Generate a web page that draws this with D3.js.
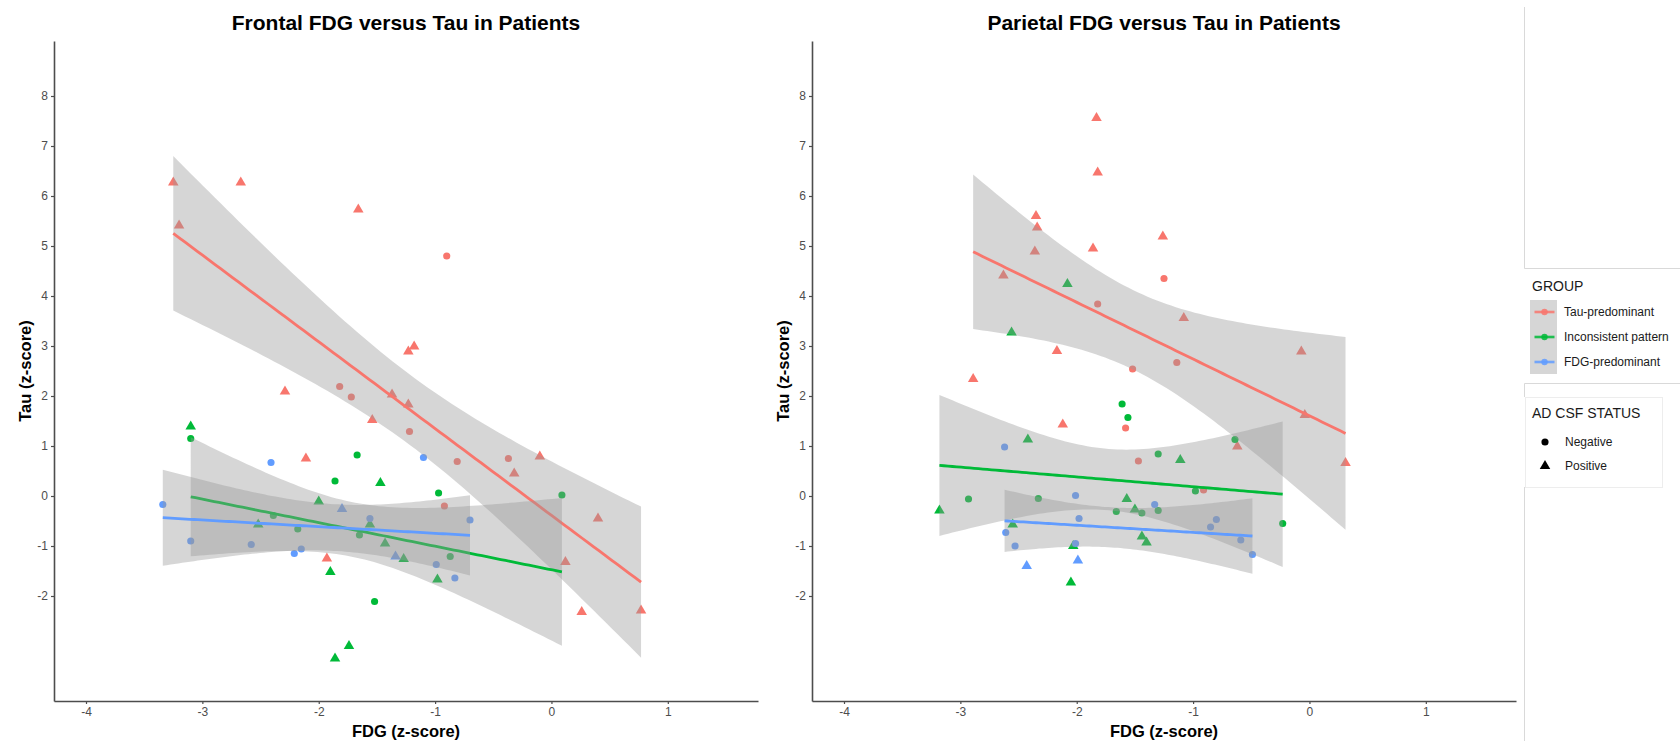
<!DOCTYPE html>
<html>
<head>
<meta charset="utf-8">
<script src="https://cdn.jsdelivr.net/npm/d3@7"></script>
<style>
  body { margin: 0; background: #fff; }
  svg { display: block; font-family: "Liberation Sans", Arial, sans-serif; }
</style>
</head>
<body>
<div id="chart"></div>
<script>
const groups = ["Tau-predominant", "Inconsistent pattern", "FDG-predominant"]
const groupColors = ["#F8766D", "#00BA38", "#619CFF"]
const csfStatus = ["Negative", "Positive"]
const xTicks = [-4, -3, -2, -1, 0, 1]
const yTicks = [-2, -1, 0, 1, 2, 3, 4, 5, 6, 7, 8]
const xLimits = [-4, 1.5]
const yLimits = [-3.5, 8.5]
const panelTitles = ["Frontal FDG versus Tau in Patients", "Parietal FDG versus Tau in Patients"]

// points: [FDG z-score, Tau z-score, AD CSF status]
const frontalTauPred = [
  [-3.25, 6.27, "P"], [-2.67, 6.27, "P"], [-1.66, 5.73, "P"], [-3.20, 5.41, "P"], [-0.90, 4.80, "N"],
  [-1.18, 2.99, "P"], [-1.23, 2.89, "P"], [-1.82, 2.19, "N"], [-1.72, 1.98, "N"], [-2.29, 2.09, "P"],
  [-1.37, 2.03, "P"], [-1.23, 1.83, "P"], [-1.54, 1.52, "P"], [-1.22, 1.29, "N"], [-2.11, 0.75, "P"],
  [-0.81, 0.69, "N"], [-0.37, 0.75, "N"], [-0.10, 0.79, "P"], [-0.32, 0.45, "P"], [-0.92, -0.20, "N"],
  [0.40, -0.45, "P"], [0.12, -1.32, "P"], [-1.93, -1.25, "P"], [0.26, -2.32, "P"], [0.77, -2.29, "P"]
]
const frontalInconsistent = [
  [-3.10, 1.39, "P"], [-3.10, 1.15, "N"], [-1.67, 0.82, "N"], [-1.86, 0.30, "N"], [-1.47, 0.26, "P"],
  [-0.97, 0.06, "N"], [0.09, 0.02, "N"], [-2.00, -0.11, "P"], [-2.39, -0.39, "N"], [-2.52, -0.57, "P"],
  [-2.18, -0.66, "N"], [-1.56, -0.57, "P"], [-1.65, -0.78, "N"], [-1.43, -0.95, "P"], [-1.27, -1.26, "P"],
  [-0.87, -1.21, "N"], [-1.90, -1.52, "P"], [-0.98, -1.67, "P"], [-1.52, -2.11, "N"], [-1.74, -3.00, "P"],
  [-1.86, -3.25, "P"]
]
const frontalFdgPred = [
  [-3.34, -0.17, "N"], [-3.10, -0.90, "N"], [-2.41, 0.67, "N"], [-2.58, -0.97, "N"], [-2.21, -1.15, "N"],
  [-2.15, -1.06, "N"], [-1.80, -0.26, "P"], [-1.56, -0.45, "N"], [-1.34, -1.21, "P"], [-1.10, 0.77, "N"],
  [-0.99, -1.37, "N"], [-0.83, -1.64, "N"], [-0.70, -0.48, "N"]
]
const parietalTauPred = [
  [-1.83, 7.56, "P"], [-1.82, 6.47, "P"], [-2.35, 5.60, "P"], [-2.34, 5.37, "P"], [-2.36, 4.89, "P"],
  [-1.86, 4.95, "P"], [-1.26, 5.19, "P"], [-1.25, 4.35, "N"], [-2.63, 4.41, "P"], [-1.82, 3.84, "N"],
  [-1.08, 3.56, "P"], [-2.17, 2.90, "P"], [-0.07, 2.89, "P"], [-1.14, 2.67, "N"], [-1.52, 2.54, "N"],
  [-2.89, 2.34, "P"], [-2.12, 1.43, "P"], [-1.58, 1.36, "N"], [-1.47, 0.70, "N"], [-0.62, 0.99, "P"],
  [-0.04, 1.62, "P"], [0.31, 0.66, "P"], [-0.91, 0.12, "N"]
]
const parietalInconsistent = [
  [-2.08, 4.24, "P"], [-2.56, 3.27, "P"], [-1.61, 1.84, "N"], [-1.56, 1.57, "N"], [-2.42, 1.13, "P"],
  [-0.64, 1.13, "N"], [-1.30, 0.84, "N"], [-1.11, 0.72, "P"], [-0.98, 0.10, "N"], [-2.93, -0.06, "N"],
  [-2.33, -0.05, "N"], [-3.18, -0.29, "P"], [-1.57, -0.06, "P"], [-1.50, -0.27, "P"], [-1.44, -0.34, "N"],
  [-1.66, -0.31, "N"], [-1.30, -0.29, "N"], [-0.23, -0.55, "N"], [-2.55, -0.57, "P"], [-1.44, -0.81, "P"],
  [-1.40, -0.93, "P"], [-2.03, -1.00, "P"], [-2.05, -1.73, "P"]
]
const parietalFdgPred = [
  [-2.62, 0.98, "N"], [-2.01, 0.01, "N"], [-1.98, -0.45, "N"], [-2.61, -0.73, "N"], [-2.53, -1.00, "N"],
  [-2.01, -0.95, "N"], [-2.43, -1.40, "P"], [-1.99, -1.29, "P"], [-1.33, -0.17, "N"], [-0.80, -0.47, "N"],
  [-0.85, -0.62, "N"], [-0.59, -0.88, "N"], [-0.49, -1.17, "N"]
]

const panels = [
  [frontalTauPred, frontalInconsistent, frontalFdgPred],
  [parietalTauPred, parietalInconsistent, parietalFdgPred]
]

const width = 1680, height = 741
const panelLeft = [54, 812], panelWidth = 704
const plotTop = 41, plotBottom = 701
const axisColor = "#4d4d4d"

// ggplot-like 5% expansion of the limits
const expand = l => { const r = l[1] - l[0]; return [l[0] - r * 0.05, l[1] + r * 0.05] }

const color = d3.scaleOrdinal().domain(groups).range(groupColors)
const y = d3.scaleLinear().domain(expand(yLimits)).range([plotBottom, plotTop])

const tri = d3.symbol(d3.symbolTriangle, 48)
const circ = d3.symbol(d3.symbolCircle, 40)

// 97.5% t quantile (Cornish-Fisher expansion)
function qt975(df) {
  const z = 1.959964
  return z + (z ** 3 + z) / (4 * df) + (5 * z ** 5 + 16 * z ** 3 + 3 * z) / (96 * df * df)
    + (3 * z ** 7 + 19 * z ** 5 + 17 * z ** 3 - 15 * z) / (384 * df ** 3)
}

// lm fit with 95% confidence band, like geom_smooth(method = "lm")
function lmFit(pts) {
  const n = pts.length
  const mx = d3.mean(pts, d => d[0]), my = d3.mean(pts, d => d[1])
  const sxx = d3.sum(pts, d => (d[0] - mx) ** 2)
  const b = d3.sum(pts, d => (d[0] - mx) * (d[1] - my)) / sxx
  const a = my - b * mx
  const s = Math.sqrt(d3.sum(pts, d => (d[1] - a - b * d[0]) ** 2) / (n - 2))
  const t = qt975(n - 2)
  const [x0, x1] = d3.extent(pts, d => d[0])
  return d3.range(80).map(i => {
    const x = x0 + (x1 - x0) * i / 79
    const fit = a + b * x
    const se = s * Math.sqrt(1 / n + (x - mx) ** 2 / sxx)
    return { x, fit, lo: fit - t * se, hi: fit + t * se }
  })
}

const svg = d3.select("#chart").append("svg")
    .attr("width", width)
    .attr("height", height)

panels.forEach((panel, p) => {
  const x = d3.scaleLinear().domain(expand(xLimits)).range([panelLeft[p], panelLeft[p] + panelWidth])
  const g = svg.append("g")
  const cx = panelLeft[p] + panelWidth / 2

  g.append("text")
      .attr("x", cx).attr("y", 30)
      .attr("text-anchor", "middle")
      .style("font-size", "21px").style("font-weight", "bold")
      .text(panelTitles[p])

  // points
  panel.forEach((pts, gi) => {
    g.append("g").selectAll("path")
      .data(pts)
      .join("path")
        .attr("transform", d => `translate(${x(d[0])},${y(d[1])})`)
        .attr("d", d => d[2] == "P" ? tri() : circ())
        .attr("fill", color(groups[gi]))
  })

  // smooths: ribbon then line per group
  panel.forEach((pts, gi) => {
    const fit = lmFit(pts)
    g.append("path")
        .datum(fit)
        .attr("fill", "#999999")
        .attr("fill-opacity", 0.4)
        .attr("d", d3.area().x(d => x(d.x)).y0(d => y(d.lo)).y1(d => y(d.hi)))
    g.append("path")
        .datum(fit)
        .attr("fill", "none")
        .attr("stroke", color(groups[gi]))
        .attr("stroke-width", 2.8)
        .attr("d", d3.line().x(d => x(d.x)).y(d => y(d.fit)))
  })

  const xAxis = g.append("g")
      .attr("transform", `translate(0,${plotBottom})`)
      .call(d3.axisBottom(x).tickValues(xTicks).tickFormat(d => String(d)).tickSize(3).tickSizeOuter(0).tickPadding(3))
  const yAxis = g.append("g")
      .attr("transform", `translate(${panelLeft[p]},0)`)
      .call(d3.axisLeft(y).tickValues(yTicks).tickFormat(d => String(d)).tickSize(3).tickSizeOuter(0).tickPadding(3))
  for (const ax of [xAxis, yAxis]) {
    ax.select(".domain").attr("stroke", axisColor).attr("stroke-width", 1.6)
    ax.selectAll(".tick line").attr("stroke", axisColor).attr("stroke-width", 1.2)
    ax.selectAll(".tick text").attr("fill", axisColor).style("font-size", "12px")
        .style("font-family", "Liberation Sans, Arial, sans-serif")
  }

  g.append("text")
      .attr("x", cx).attr("y", 737)
      .attr("text-anchor", "middle")
      .style("font-size", "16.5px").style("font-weight", "bold")
      .text("FDG (z-score)")
  g.append("text")
      .attr("transform", `translate(${panelLeft[p] - 23},${(plotTop + plotBottom) / 2}) rotate(-90)`)
      .attr("text-anchor", "middle")
      .style("font-size", "16.5px").style("font-weight", "bold")
      .text("Tau (z-score)")
})

// legend area
const lg = svg.append("g")
const border = "#d9d9d9"
lg.append("path")
    .attr("fill", "none").attr("stroke", border)
    .attr("d", "M1524.5,7V268.5H1680M1524.5,741V487M1524.5,397V383.5H1680")
lg.append("rect")
    .attr("x", 1525.5).attr("y", 397.5).attr("width", 137).attr("height", 90)
    .attr("fill", "#fff").attr("stroke", "#ededed")

lg.append("text").attr("x", 1532).attr("y", 291)
    .style("font-size", "14px").attr("fill", "#1a1a1a").text("GROUP")
lg.append("rect").attr("x", 1530).attr("y", 300).attr("width", 27).attr("height", 74)
    .attr("fill", "#d6d6d6")
const keys = lg.selectAll("g.key").data(groups).join("g")
    .attr("class", "key")
    .attr("transform", (d, i) => `translate(1544.5,${312 + i * 25})`)
keys.append("line").attr("x1", -10).attr("x2", 10)
    .attr("stroke", d => color(d)).attr("stroke-width", 2.6).attr("stroke-opacity", 0.85)
keys.append("circle").attr("r", 3.2).attr("fill", d => color(d)).attr("fill-opacity", 0.85)
keys.append("text").attr("x", 19.5).attr("dy", "0.35em")
    .style("font-size", "12px").attr("fill", "#1a1a1a").text(d => d)

lg.append("text").attr("x", 1532).attr("y", 418)
    .style("font-size", "14px").attr("fill", "#1a1a1a").text("AD CSF STATUS")
const shapes = lg.selectAll("g.shape").data(csfStatus).join("g")
    .attr("class", "shape")
    .attr("transform", (d, i) => `translate(1545,${442 + i * 24})`)
shapes.append("path").attr("d", (d, i) => i ? tri() : circ()).attr("fill", "#000")
shapes.append("text").attr("x", 20).attr("dy", "0.35em")
    .style("font-size", "12px").attr("fill", "#1a1a1a").text(d => d)
</script>
</body>
</html>
